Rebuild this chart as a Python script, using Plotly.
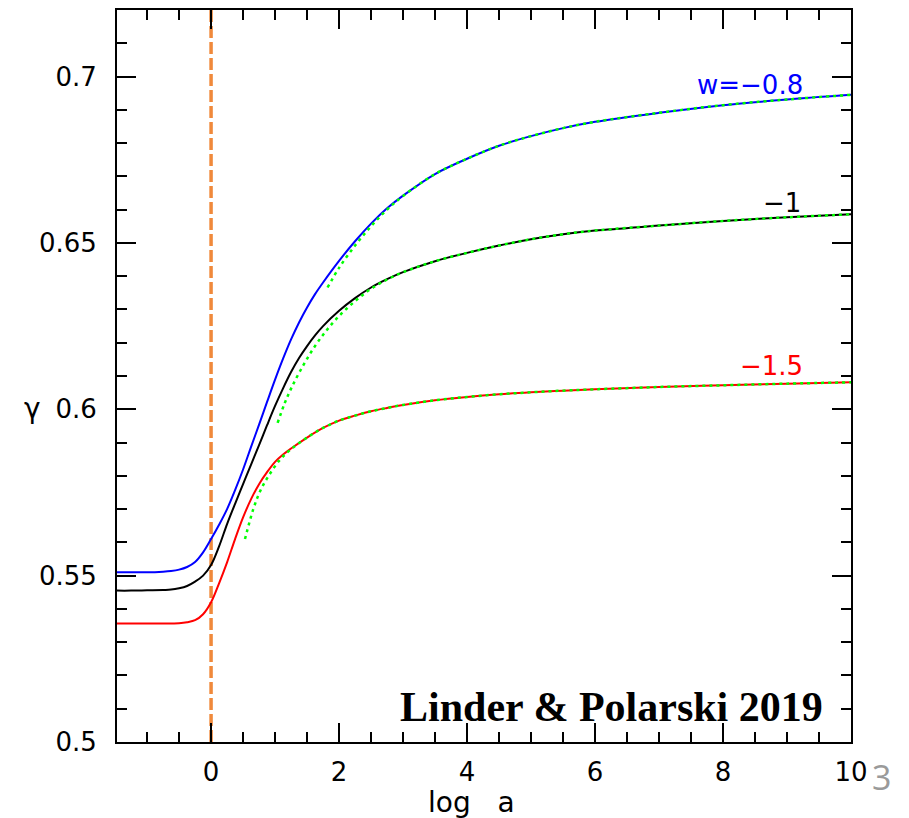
import plotly.graph_objects as go

# ---- data ----
blue_x = [-1.5, -1.25, -1.0, -0.75, -0.625, -0.5, -0.375, -0.25, -0.125, 0.0, 0.125, 0.25, 0.375, 0.5, 0.625, 0.75, 0.875, 1.0, 1.125, 1.25, 1.375, 1.5, 1.625, 1.75, 2.0, 2.25, 2.5, 2.75, 3.0, 3.5, 4.0, 4.5, 5.0, 5.5, 6.0, 7.0, 8.0, 9.0, 10.0]
blue_y = [0.5510, 0.5510, 0.5510, 0.5512, 0.5514, 0.5518, 0.5526, 0.5541, 0.5570, 0.5610, 0.5653, 0.5700, 0.5757, 0.5819, 0.5887, 0.5954, 0.6022, 0.6089, 0.6152, 0.6210, 0.6261, 0.6306, 0.6346, 0.6381, 0.6446, 0.6505, 0.6558, 0.6604, 0.6642, 0.6707, 0.6753, 0.6792, 0.6821, 0.6845, 0.6864, 0.6891, 0.6914, 0.6931, 0.6945]

black_x = [-1.5, -1.25, -1.0, -0.75, -0.625, -0.5, -0.375, -0.25, -0.125, 0.0, 0.125, 0.25, 0.375, 0.5, 0.625, 0.75, 0.875, 1.0, 1.125, 1.25, 1.375, 1.5, 1.625, 1.75, 2.0, 2.25, 2.5, 2.75, 3.0, 3.5, 4.0, 4.5, 5.0, 5.5, 6.0, 7.0, 8.0, 9.0, 10.0]
black_y = [0.5455, 0.5455, 0.5456, 0.5457, 0.5458, 0.5462, 0.5469, 0.5482, 0.5500, 0.5532, 0.5588, 0.5655, 0.5716, 0.5775, 0.5834, 0.5892, 0.5952, 0.6010, 0.6063, 0.6112, 0.6154, 0.6190, 0.6222, 0.6250, 0.6296, 0.6334, 0.6366, 0.6391, 0.6412, 0.6445, 0.6470, 0.6492, 0.6511, 0.6526, 0.6537, 0.6552, 0.6566, 0.6577, 0.6586]

red_x = [-1.5, -1.25, -1.0, -0.75, -0.5, -0.375, -0.25, -0.125, 0.0, 0.125, 0.25, 0.375, 0.5, 0.625, 0.75, 0.875, 1.0, 1.125, 1.25, 1.5, 1.75, 2.0, 2.25, 2.5, 2.75, 3.0, 3.5, 4.0, 4.5, 5.0, 5.5, 6.0, 7.0, 8.0, 9.0, 10.0]
red_y = [0.5356, 0.5356, 0.5356, 0.5356, 0.5357, 0.5360, 0.5366, 0.5384, 0.5420, 0.5477, 0.5540, 0.5610, 0.5675, 0.5730, 0.5775, 0.5811, 0.5842, 0.5864, 0.5882, 0.5915, 0.5944, 0.5966, 0.5981, 0.5994, 0.6004, 0.6013, 0.6027, 0.6037, 0.6045, 0.6051, 0.6056, 0.6060, 0.6067, 0.6072, 0.6077, 0.6081]

green_blue_x = [1.82, 2.0, 2.25, 2.5, 2.75, 3.0, 3.5, 4.0, 4.5, 5.0, 5.5, 6.0, 7.0, 8.0, 9.0, 10.0]
green_blue_y = [0.6366, 0.6425, 0.6492, 0.6550, 0.6600, 0.6641, 0.6707, 0.6753, 0.6792, 0.6821, 0.6845, 0.6864, 0.6891, 0.6914, 0.6931, 0.6945]

green_black_x = [1.04, 1.15, 1.25, 1.4, 1.6, 1.8, 2.0, 2.25, 2.5, 2.75, 3.0, 3.5, 4.0, 4.5, 5.0, 5.5, 6.0, 7.0, 8.0, 9.0, 10.0]
green_black_y = [0.5959, 0.6018, 0.6062, 0.6118, 0.6183, 0.6236, 0.6280, 0.6325, 0.6362, 0.6390, 0.6412, 0.6445, 0.6470, 0.6492, 0.6511, 0.6526, 0.6537, 0.6552, 0.6566, 0.6577, 0.6586]

green_red_x = [0.53, 0.66, 0.77, 0.90, 1.08, 1.25, 1.5, 1.75, 2.0, 2.25, 2.5, 2.75, 3.0, 3.5, 4.0, 4.5, 5.0, 5.5, 6.0, 7.0, 8.0, 9.0, 10.0]
green_red_y = [0.5610, 0.5700, 0.5755, 0.5800, 0.5849, 0.5880, 0.5915, 0.5944, 0.5966, 0.5981, 0.5994, 0.6004, 0.6013, 0.6027, 0.6037, 0.6045, 0.6051, 0.6056, 0.6060, 0.6067, 0.6072, 0.6077, 0.6081]

vline_x = [0, 0]
vline_y = [0.5, 0.72]

x_ticks = [0, 2, 4, 6, 8, 10]
x_ticktext = ["0", "2", "4", "6", "8", "10"]
y_ticks = [0.5, 0.55, 0.6, 0.65, 0.7]
y_ticktext = ["0.5", "0.55", "0.6", "0.65", "0.7"]

labels = [("w=\u22120.8", 9.28, 0.6976, "#0000ff"),
          ("\u22121", 9.25, 0.6620, "#000000"),
          ("\u22121.5", 9.28, 0.6129, "#ff0000")]

# ---- figure ----
# the page body has an 8px margin; plot area occupies page pixels x 117..851, y 8..742
fig = go.Figure()

fig.add_trace(go.Scatter(x=vline_x, y=vline_y, mode="lines",
                         line=dict(color="#f0893b", width=3.5, dash="12px,4px"),
                         hoverinfo="skip"))

for xs, ys, col in [(blue_x, blue_y, "#0000ff"), (black_x, black_y, "#000000"), (red_x, red_y, "#ff0000")]:
    fig.add_trace(go.Scatter(x=xs, y=ys, mode="lines",
                             line=dict(color=col, width=2, shape="spline", smoothing=1.0)))

for xs, ys in [(green_blue_x, green_blue_y), (green_black_x, green_black_y), (green_red_x, green_red_y)]:
    fig.add_trace(go.Scatter(x=xs, y=ys, mode="lines",
                             line=dict(color="#00ff00", width=2.5, dash="3px,4px",
                                       shape="spline", smoothing=1.0)))

tickfont = dict(family="DejaVu Sans", size=26, color="black")

fig.update_xaxes(range=[-1.47, 10], tickvals=x_ticks, ticktext=x_ticktext,
                 ticks="inside", ticklen=19, tickwidth=1.5, tickcolor="black",
                 showline=True, linewidth=2, linecolor="black", mirror="allticks",
                 showgrid=False, zeroline=False, tickfont=tickfont, ticklabelstandoff=6,
                 minor=dict(tickvals=[-1 + 0.5 * i for i in range(23)], ticks="inside", ticklen=10,
                            tickwidth=1.5, tickcolor="black", showgrid=False))
fig.update_yaxes(range=[0.5, 0.72], tickvals=y_ticks, ticktext=y_ticktext,
                 ticks="inside", ticklen=19, tickwidth=1.5, tickcolor="black",
                 showline=True, linewidth=2, linecolor="black", mirror="allticks",
                 showgrid=False, zeroline=False, tickfont=tickfont, ticklabelstandoff=13,
                 minor=dict(tickvals=[0.5 + 0.01 * i for i in range(23)], ticks="inside", ticklen=10,
                            tickwidth=1.5, tickcolor="black", showgrid=False))

annotations = []
for txt, xv, yv, col in labels:
    annotations.append(dict(text=txt, x=xv, y=yv, xref="x", yref="y", xanchor="right", yanchor="middle",
                            showarrow=False, font=dict(family="DejaVu Sans", size=26, color=col)))
annotations.append(dict(text="<b>Linder &amp; Polarski 2019</b>", x=(825 - 117) / 734, y=(742 - 707) / 734,
                        xref="paper", yref="paper", xanchor="right", yanchor="middle", showarrow=False,
                        font=dict(family="Liberation Serif", size=42, color="black")))
annotations.append(dict(text="log\u00a0\u00a0\u00a0a", x=(471 - 117) / 734, y=-(803 - 742) / 734,
                        xref="paper", yref="paper", xanchor="center", yanchor="middle", showarrow=False,
                        font=dict(family="DejaVu Sans", size=28, color="black")))
annotations.append(dict(text="\u03b3", x=(32 - 117) / 734, y=(742 - 408) / 734, xref="paper", yref="paper",
                        xanchor="center", yanchor="middle", showarrow=False,
                        font=dict(family="DejaVu Sans", size=28, color="black")))
annotations.append(dict(text="3", x=(882 - 117) / 734, y=-(777 - 742) / 734, xref="paper", yref="paper",
                        xanchor="center", yanchor="middle", showarrow=False,
                        font=dict(family="Open Sans", size=34, color="#9a9a9a")))

fig.update_layout(width=901, height=810, margin=dict(l=109, r=58, t=0, b=76),
                  paper_bgcolor="white", plot_bgcolor="white", showlegend=False,
                  annotations=annotations)

fig.write_html("out.html")
